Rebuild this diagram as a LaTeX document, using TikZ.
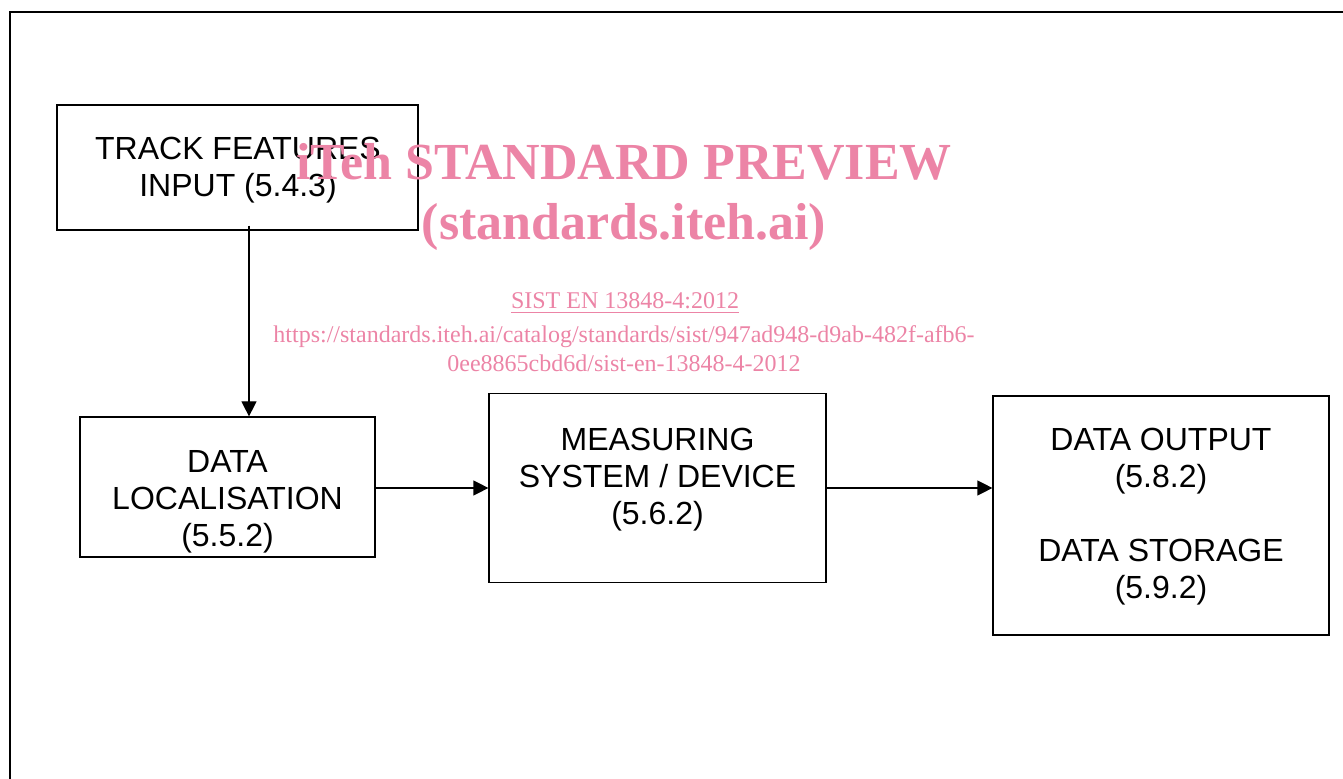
\documentclass[tikz,border=0pt]{standalone}
\usepackage{fontspec}
\setmainfont{Liberation Sans}
\newfontfamily\wmfont{Liberation Serif}
\usetikzlibrary{arrows.meta,positioning}
\definecolor{wmpink}{RGB}{236,132,166}

\begin{document}
\begin{tikzpicture}[x=0.5pt,y=-0.5pt,
  box/.style={draw=black,line width=0.6pt,rectangle,inner sep=0pt},
  lbl/.style={align=center,font=\fontsize{16}{18.5}\selectfont,inner sep=0pt},
  conn/.style={draw=black,line width=0.6pt,-{Triangle[length=7.5pt,width=7.5pt]}},
  wmbig/.style={anchor=base,inner sep=0pt,text=wmpink,font=\wmfont\bfseries\fontsize{26}{30}\selectfont},
  wmsmall/.style={anchor=base,inner sep=0pt,text=wmpink,font=\wmfont\fontsize{12}{15}\selectfont}]
\useasboundingbox (0,0) rectangle (1343,779);
% outer frame
\draw [black,line width=1pt] (9.5,779) -- (9.5,12) -- (1343,12);
% boxes
\node [box,minimum width=180.5pt,minimum height=62.5pt] (trk) at (237.5,167.5) {};
\node [box,minimum width=147.5pt,minimum height=70pt] (loc) at (227.5,487) {};
\node [box,minimum width=168.5pt,minimum height=94.5pt] (meas) at (657.5,488) {};
\node [box,minimum width=168pt,minimum height=119.5pt] (out) at (1161,515.5) {};
\node [lbl] (trktxt) at (238,170) {TRACK FEATURES\\INPUT (5.4.3)};
\node [lbl] (loctxt) at (227.5,502) {DATA\\LOCALISATION\\(5.5.2)};
\node [lbl] (meastxt) at (657.5,480) {MEASURING\\SYSTEM / DEVICE\\(5.6.2)};
\node [lbl] (outtxt) at (1161,516.5) {DATA OUTPUT\\(5.8.2)\\[18.5pt]DATA STORAGE\\(5.9.2)};
% connectors
\coordinate (drop) at ([xshift=5.75pt,yshift=2.5pt]trk.south);
\draw [conn] (drop) -- (drop |- loc.north);
\draw [conn] (loc.east |- meas.west) -- (meas.west);
\draw [conn] (meas.east) -- (meas.east -| out.west);
% watermark
\node [wmbig] (wm1) at (624,180) {iTeh STANDARD PREVIEW};
\node [wmbig] (wm2) at (624,240) {(standards.iteh.ai)};
\node [wmsmall] (wm3) at (625,309) {\underline{SIST EN 13848-4:2012}};
\node [wmsmall] (wm4) at (624,343) {https://standards.iteh.ai/catalog/standards/sist/947ad948-d9ab-482f-afb6-};
\node [wmsmall] (wm5) at (624,372) {0ee8865cbd6d/sist-en-13848-4-2012};
\end{tikzpicture}
\end{document}
